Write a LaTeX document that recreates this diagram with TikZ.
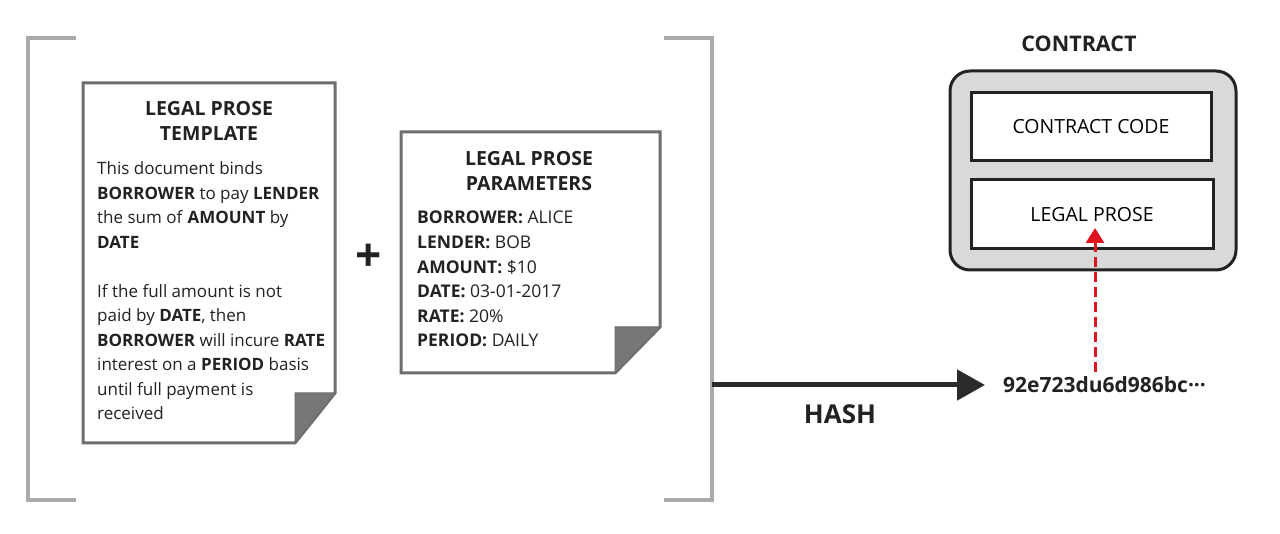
\documentclass[tikz,border=0pt]{standalone}
\usepackage{fontspec}
\setmainfont{Open Sans}
\usetikzlibrary{arrows.meta}
\definecolor{txt}{HTML}{222222}
\definecolor{brk}{HTML}{AAAAAA}
\definecolor{docline}{HTML}{6E6E6E}
\definecolor{fold}{HTML}{777777}
\definecolor{ctgray}{HTML}{D9D9D9}
\definecolor{ctline}{HTML}{222222}
\definecolor{hashred}{HTML}{E0141E}
\definecolor{arrowc}{HTML}{2A2A2A}
\tikzset{
 bracket/.style={draw=brk, line width=4pt},
 doc/.style={draw=docline, line width=3pt, fill=white, line join=miter},
 foldc/.style={fill=fold, draw=docline, line width=1pt, line join=miter},
 title/.style={font=\fontsize{19.5}{24.5}\selectfont\bfseries, align=center, text=txt, inner sep=0pt},
 body/.style={font=\fontsize{17}{24.5}\selectfont, align=left, text=txt, anchor=north west, inner sep=0pt},
 innerbox/.style={draw=ctline, line width=3pt, fill=white, font=\fontsize{19.5}{22}\selectfont, text=black},
 outerbox/.style={draw=ctline, line width=3pt, fill=ctgray, rounded corners=20pt},
 hasharrow/.style={draw=arrowc, line width=5pt, -{Triangle[length=28pt,width=30pt]}},
 redarrow/.style={draw=hashred, line width=3pt, dash pattern=on 10pt off 5pt, -{Triangle[length=15pt,width=18pt]}},
}
\begin{document}
\begin{tikzpicture}[x=1pt,y=-1pt]
\useasboundingbox[fill=white] (0,0) rectangle (1280,534);
% brackets
\draw[bracket] (76,38) -- (28,38) -- (28,500) -- (76,500);
\draw[bracket] (664,38) -- (712,38) -- (712,500) -- (664,500);
\coordinate (brk) at (712,385);
% template document
\draw[doc] (83,83) -- (335,83) -- (335,393) -- (295,443) -- (83,443) -- cycle;
\filldraw[foldc] (295,393) -- (335,393) -- (295,443) -- cycle;
\node[title] (tplt) at (209,121) {LEGAL PROSE\\TEMPLATE};
\node[body] (tplb) at (97,161.5) {This document binds\\
\textbf{BORROWER} to pay \textbf{LENDER}\\
the sum of \textbf{AMOUNT} by\\
\textbf{DATE}\\[24.5pt]
If the full amount is not\\
paid by \textbf{DATE}, then\\
\textbf{BORROWER} will incure \textbf{RATE}\\
interest on a \textbf{PERIOD} basis\\
until full payment is\\
received};
% plus
\node[font=\fontsize{46}{46}\selectfont\bfseries, text=txt, inner sep=0pt] (plus) at (369,258) {+};
% parameters document
\draw[doc] (401,132) -- (660,132) -- (660,327) -- (615,373) -- (401,373) -- cycle;
\filldraw[foldc] (615,327) -- (660,327) -- (615,373) -- cycle;
\node[title] (part) at (529,171) {LEGAL PROSE\\PARAMETERS};
\node[body, font=\fontsize{17.5}{24.6}\selectfont] (parb) at (417,211) {\textbf{BORROWER:} ALICE\\
\textbf{LENDER:} BOB\\
\textbf{AMOUNT:} \$10\\
\textbf{DATE:} 03-01-2017\\
\textbf{RATE:} 20\%\\
\textbf{PERIOD:} DAILY};
% contract
\node[font=\fontsize{21.5}{24}\selectfont\bfseries, text=txt] (ctl) at (1079,44) {CONTRACT};
\node[outerbox, minimum width=286pt, minimum height=199pt] (ct) at (1093,170.5) {};
\node[innerbox, minimum width=240pt, minimum height=68pt] (cc) at (1091,127) {CONTRACT CODE};
\node[innerbox, minimum width=242pt, minimum height=69pt] (lp) at (1092,214.5) {LEGAL PROSE};
\coordinate (lptip) at (1095,228);
% hash
\node[font=\fontsize{21}{22}\selectfont\bfseries, text=txt, anchor=west, inner sep=0pt] (hash) at (1003,385) {92e723du6d986bc···};
\node[font=\fontsize{26}{28}\selectfont\bfseries, text=txt] (hashl) at (840,414) {HASH};
\draw[hasharrow] (brk) -- ([xshift=-18pt]hash.west);
\draw[redarrow] (hash.north -| lptip) ++(0,-5) -- (lptip);
\end{tikzpicture}
\end{document}
